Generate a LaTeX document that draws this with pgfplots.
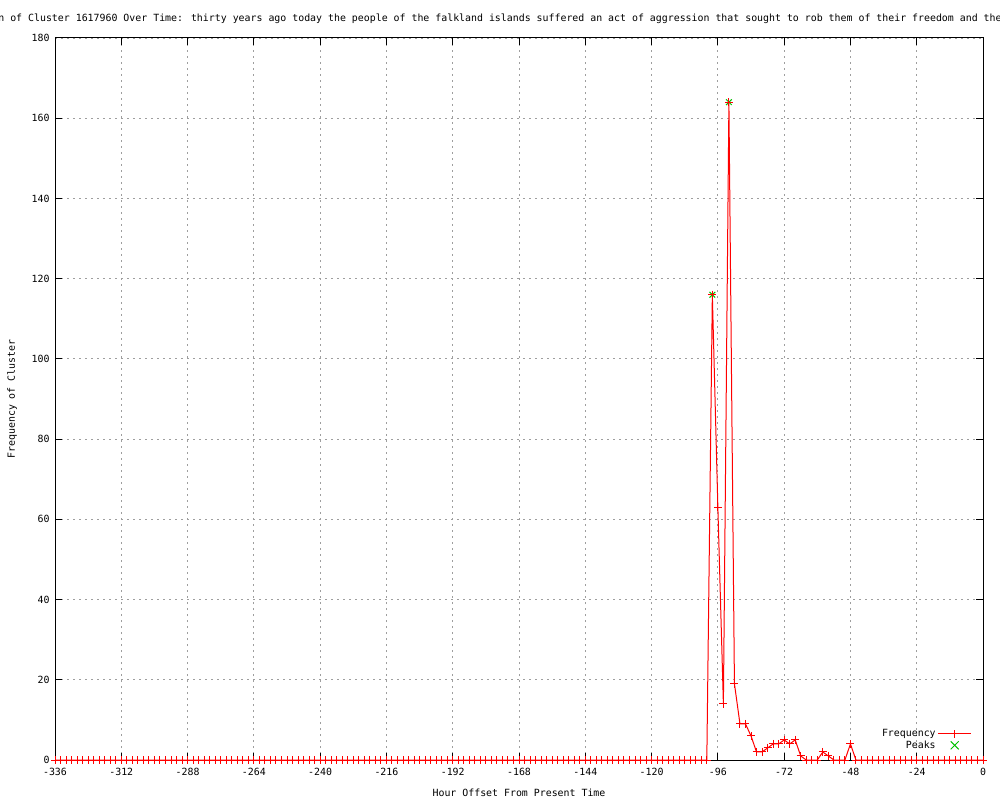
\documentclass[border=0pt]{standalone}
\usepackage{pgfplots}
\pgfplotsset{compat=1.18}
\usepackage{fontspec}
\setmainfont{DejaVu Sans Mono}
\definecolor{gpred}{RGB}{255,0,0}
\definecolor{gpgreen}{RGB}{0,192,0}
\begin{document}
\begin{tikzpicture}[font=\fontsize{9.9pt}{11pt}\selectfont]
\begin{axis}[
  at={(55pt,40pt)}, anchor=south west,
  scale only axis, width=928pt, height=722pt,
  xmin=-336, xmax=0, ymin=0, ymax=180,
  xtick={-336,-312,...,0}, ytick={0,20,...,180},
  minor tick num=0,
  grid=major,
  major grid style={color=black!38, dash pattern=on 2pt off 4pt, line width=0.9pt},
  axis line style={black, line width=1pt},
  tick style={black, line width=1pt},
  major tick length=7pt,
  /pgf/number format/assume math mode=true,
  xticklabel style={yshift=-5pt},
  yticklabel style={xshift=-2pt},
  every axis x label/.style={at={(axis description cs:0.5,-0.0457)}, anchor=center},
  every axis y label/.style={at={(axis description cs:-0.0463,0.5)}, rotate=90, anchor=center},
  xlabel={Hour Offset From Present Time},
  ylabel={Frequency of Cluster},
  legend style={at={(0.988,0.011)}, anchor=south east, draw=none, fill=none,
    inner sep=0pt, row sep=-1.5pt,
    nodes={inner sep=2pt}},
  legend plot pos=right,
  legend cell align=right,
]
\addplot[only marks, gpgreen, mark=x, mark size=4pt,
  mark options={gpgreen, line width=1pt}, forget plot] coordinates {(-98,116) (-92,164)};
\addplot[gpred, line width=1pt, mark=+, mark size=4pt,
  mark options={gpred, solid, line width=1pt},
  legend image code/.code={
    \draw[gpred, line width=1pt] (0pt,0pt) -- (33pt,0pt);
    \draw[gpred, line width=1pt] (16.5pt,-4pt) -- (16.5pt,4pt);
  }] coordinates {
(-336,0) (-334,0) (-332,0) (-330,0) (-328,0) (-326,0) (-324,0) (-322,0) (-320,0) (-318,0)
(-316,0) (-314,0) (-312,0) (-310,0) (-308,0) (-306,0) (-304,0) (-302,0) (-300,0) (-298,0)
(-296,0) (-294,0) (-292,0) (-290,0) (-288,0) (-286,0) (-284,0) (-282,0) (-280,0) (-278,0)
(-276,0) (-274,0) (-272,0) (-270,0) (-268,0) (-266,0) (-264,0) (-262,0) (-260,0) (-258,0)
(-256,0) (-254,0) (-252,0) (-250,0) (-248,0) (-246,0) (-244,0) (-242,0) (-240,0) (-238,0)
(-236,0) (-234,0) (-232,0) (-230,0) (-228,0) (-226,0) (-224,0) (-222,0) (-220,0) (-218,0)
(-216,0) (-214,0) (-212,0) (-210,0) (-208,0) (-206,0) (-204,0) (-202,0) (-200,0) (-198,0)
(-196,0) (-194,0) (-192,0) (-190,0) (-188,0) (-186,0) (-184,0) (-182,0) (-180,0) (-178,0)
(-176,0) (-174,0) (-172,0) (-170,0) (-168,0) (-166,0) (-164,0) (-162,0) (-160,0) (-158,0)
(-156,0) (-154,0) (-152,0) (-150,0) (-148,0) (-146,0) (-144,0) (-142,0) (-140,0) (-138,0)
(-136,0) (-134,0) (-132,0) (-130,0) (-128,0) (-126,0) (-124,0) (-122,0) (-120,0) (-118,0)
(-116,0) (-114,0) (-112,0) (-110,0) (-108,0) (-106,0) (-104,0) (-102,0) (-100,0) (-98,116)
(-96,63) (-94,14) (-92,164) (-90,19) (-88,9) (-86,9) (-84,6) (-82,2) (-80,2) (-78,3)
(-76,4) (-74,4) (-72,5) (-70,4) (-68,5) (-66,1) (-64,0) (-62,0) (-60,0) (-58,2)
(-56,1) (-54,0) (-52,0) (-50,0) (-48,4) (-46,0) (-44,0) (-42,0) (-40,0) (-38,0)
(-36,0) (-34,0) (-32,0) (-30,0) (-28,0) (-26,0) (-24,0) (-22,0) (-20,0) (-18,0)
(-16,0) (-14,0) (-12,0) (-10,0) (-8,0) (-6,0) (-4,0) (-2,0) (0,0)
};
\addlegendentry{Frequency}
\addlegendimage{legend image code/.code={
    \draw[gpgreen, line width=1pt] (12.5pt,-4pt) -- (20.5pt,4pt);
    \draw[gpgreen, line width=1pt] (12.5pt,4pt) -- (20.5pt,-4pt);
  }}
\addlegendentry{Peaks}
\end{axis}
\node[anchor=base] at (500pt,778pt) {n of Cluster 1617960 Over Time: thirty years ago today the people of the falkland islands suffered an act of aggression that sought to rob them of their freedom and the};
\pgfresetboundingbox
\useasboundingbox (0pt,0pt) rectangle (1000pt,800pt);
\end{tikzpicture}
\end{document}
